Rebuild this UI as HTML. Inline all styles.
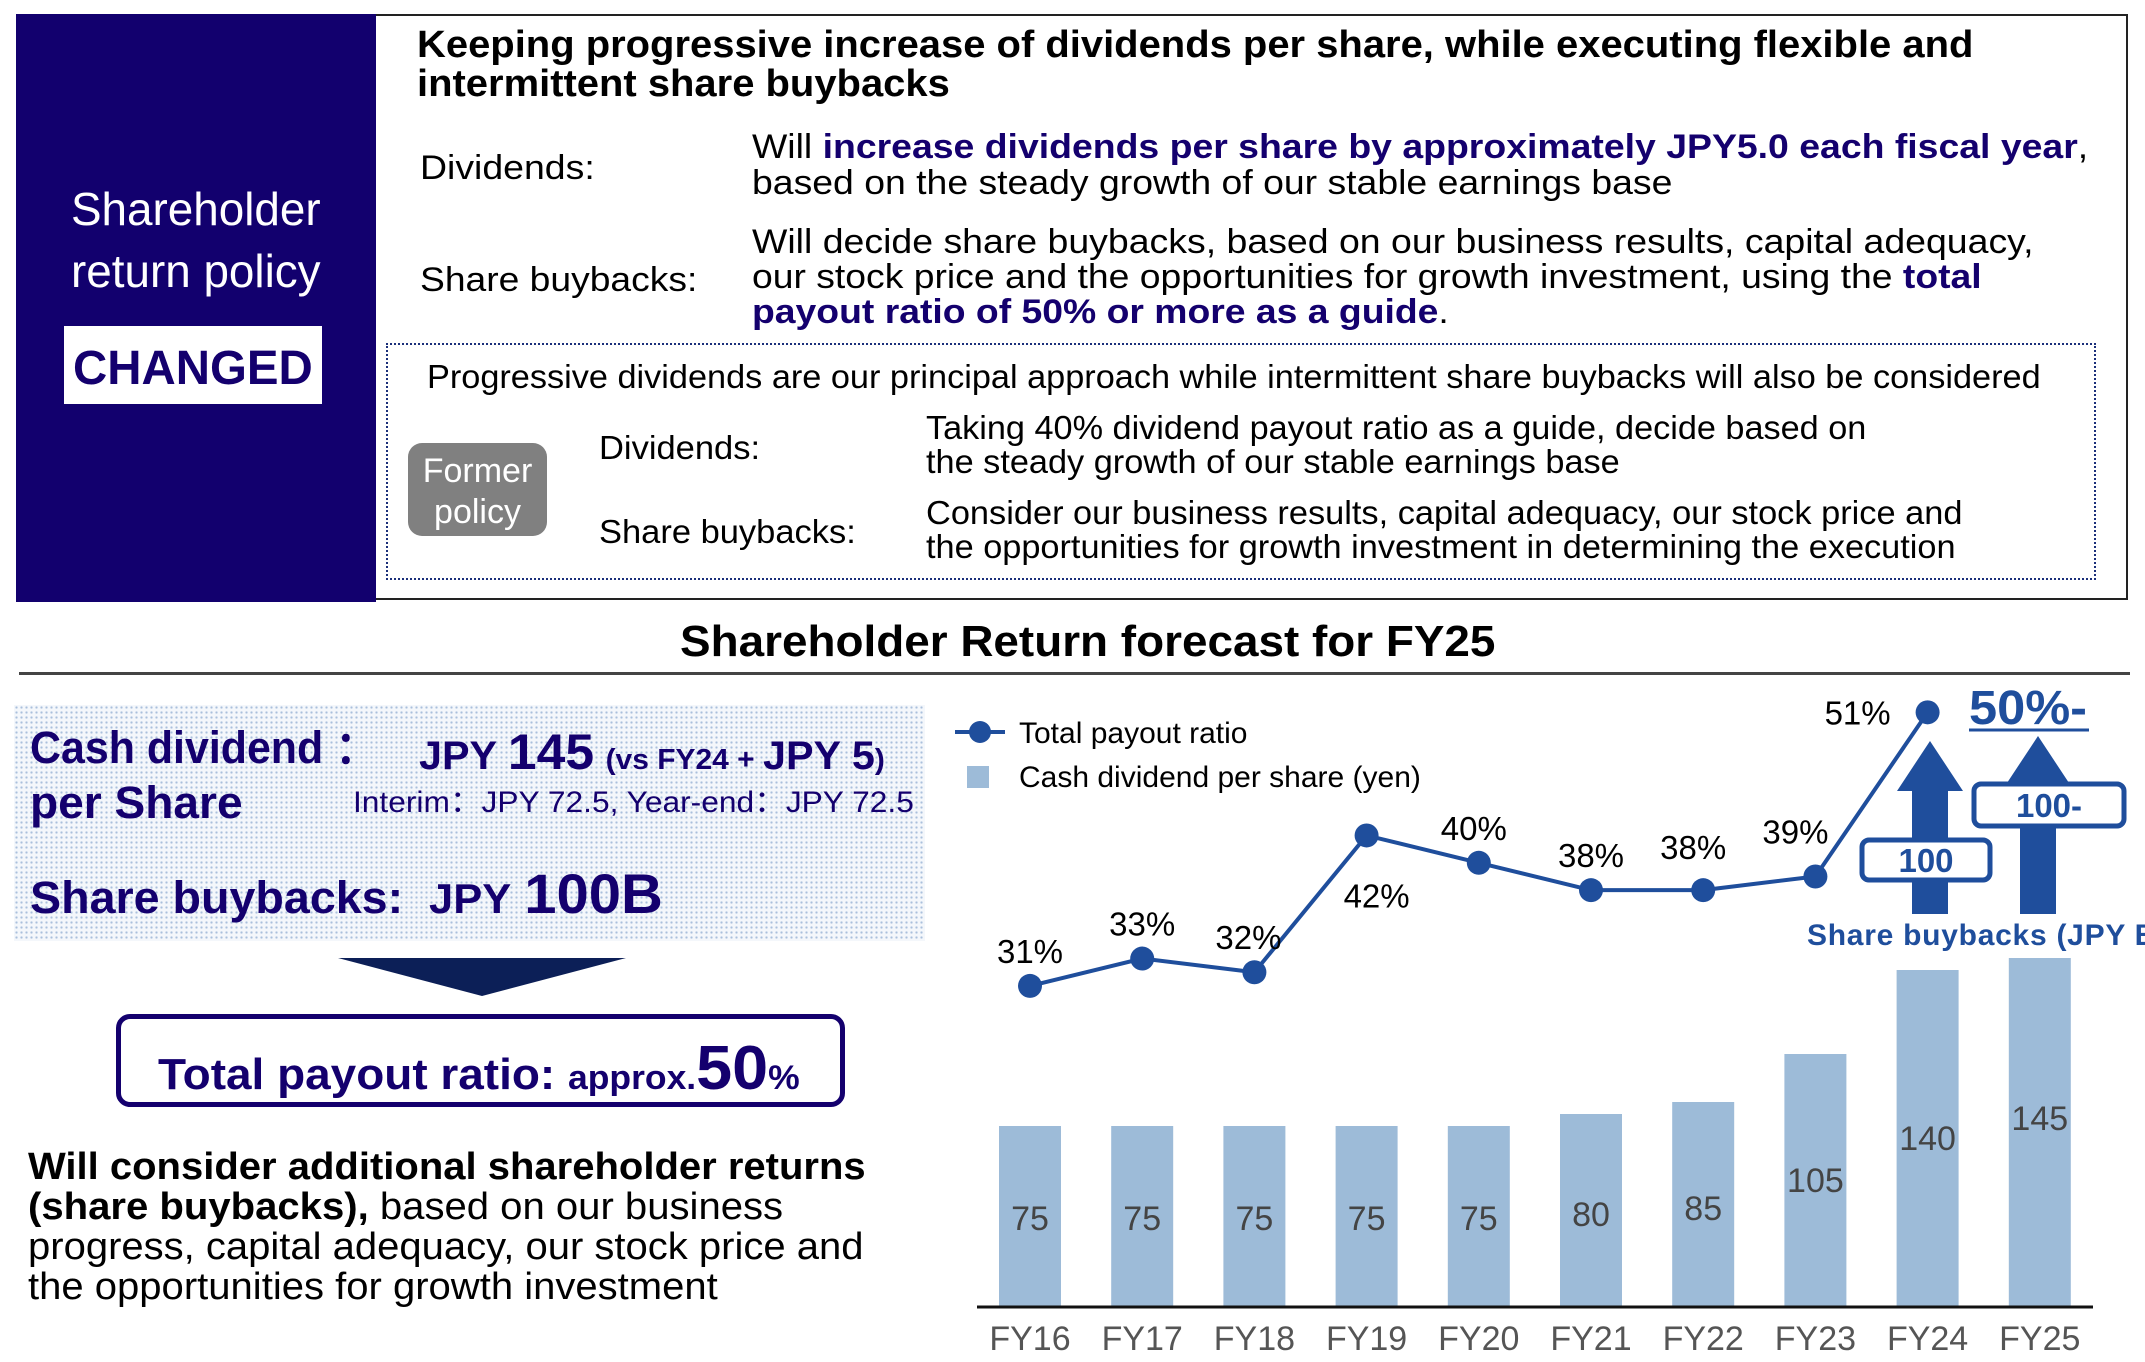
<!DOCTYPE html>
<html><head><meta charset="utf-8">
<style>
body{margin:0;background:#fff;}
#root{position:relative;width:2145px;height:1362px;overflow:hidden;font-family:"Liberation Sans",Arial,sans-serif;color:#000;}
.t{position:absolute;white-space:nowrap;transform-origin:0 50%;line-height:1;}
.navy{color:#14006e;}
.blue{color:#1f3f99;}
b{font-weight:bold;}
</style></head><body>
<div id="root">

<div style="position:absolute;left:16px;top:14px;width:2112px;height:586px;border:2px solid #222;box-sizing:border-box;"></div>
<div style="position:absolute;left:16px;top:14px;width:360px;height:588px;background:#12006e;"></div>
<div class="t" data-w="250" style="left:71px;top:178px;font-size:46px;color:#fff;line-height:62px;text-align:center;">Shareholder<br>return policy</div>
<div style="position:absolute;left:64px;top:326px;width:258px;height:78px;background:#fff;"></div>
<div class="t" data-w="240" style="left:73px;top:345px;font-size:48px;font-weight:bold;color:#14006e;">CHANGED</div>

<div class="t" data-w="1556" style="left:417px;top:26px;font-size:38px;font-weight:bold;">Keeping progressive increase of dividends per share, while executing flexible and</div>
<div class="t" data-w="533" style="left:417px;top:65px;font-size:38px;font-weight:bold;">intermittent share buybacks</div>

<div class="t" data-w="175" style="left:420px;top:151px;font-size:34px;">Dividends:</div>
<div class="t" data-w="1336" style="left:752px;top:130px;font-size:34px;">Will <b class="navy">increase dividends per share by approximately JPY5.0 each fiscal year</b>,</div>
<div class="t" data-w="920" style="left:752px;top:166px;font-size:34px;">based on the steady growth of our stable earnings base</div>

<div class="t" data-w="277" style="left:420px;top:263px;font-size:34px;">Share buybacks:</div>
<div class="t" data-w="1282" style="left:752px;top:225px;font-size:34px;">Will decide share buybacks, based on our business results, capital adequacy,</div>
<div class="t" data-w="1230" style="left:752px;top:260px;font-size:34px;">our stock price and the opportunities for growth investment, using the <b class="navy">total</b></div>
<div class="t" data-w="697" style="left:752px;top:295px;font-size:34px;"><b class="navy">payout ratio of 50% or more as a guide</b>.</div>

<div style="position:absolute;left:386px;top:343px;width:1710px;height:237px;border:2.5px dotted #1b2f7a;box-sizing:border-box;"></div>
<div class="t" data-w="1614" style="left:427px;top:360px;font-size:33px;">Progressive dividends are our principal approach while intermittent share buybacks will also be considered</div>
<div style="position:absolute;left:408px;top:443px;width:139px;height:93px;background:#808080;border-radius:14px;"></div>
<div class="t" style="left:408px;top:451px;width:139px;font-size:34px;color:#fff;text-align:center;line-height:41px;">Former<br>policy</div>
<div class="t" data-w="161" style="left:599px;top:431px;font-size:33px;">Dividends:</div>
<div class="t" data-w="940" style="left:926px;top:411px;font-size:33px;">Taking 40% dividend payout ratio as a guide, decide based on</div>
<div class="t" data-w="694" style="left:926px;top:445px;font-size:33px;">the steady growth of our stable earnings base</div>
<div class="t" data-w="257" style="left:599px;top:515px;font-size:33px;">Share buybacks:</div>
<div class="t" data-w="1036" style="left:926px;top:496px;font-size:33px;">Consider our business results, capital adequacy, our stock price and</div>
<div class="t" data-w="1030" style="left:926px;top:530px;font-size:33px;">the opportunities for growth investment in determining the execution</div>

<div class="t" data-w="815" style="left:680px;top:620px;font-size:44px;font-weight:bold;">Shareholder Return forecast for FY25</div>
<div style="position:absolute;left:19px;top:672px;width:2111px;height:3px;background:#444;"></div>

<div style="position:absolute;left:14px;top:705px;width:911px;height:236px;background-color:#f4f7fb;background-image:radial-gradient(#a9bfdc 1px,transparent 1.3px);background-size:5px 5px;"></div>
<div class="t navy" data-w="348" style="left:30px;top:725px;font-size:45px;font-weight:bold;">Cash dividend ：</div>
<div class="t navy" data-w="466" style="left:419px;top:727px;font-size:40px;font-weight:bold;">JPY <span style="font-size:50px">145</span> <span style="font-size:29px">(vs FY24 + </span>JPY 5<span style="font-size:29px">)</span></div>
<div class="t navy" data-w="213" style="left:30px;top:780px;font-size:45px;font-weight:bold;">per Share</div>
<div class="t navy" data-w="561" style="left:353px;top:788px;font-size:30px;">Interim：JPY 72.5, Year-end：JPY 72.5</div>
<div class="t navy" data-w="633" style="left:30px;top:866px;font-size:45px;font-weight:bold;">Share buybacks:&nbsp; <span style="font-size:42px">JPY</span> <span style="font-size:56px">100B</span></div>
<svg style="position:absolute;left:338px;top:958px" width="288" height="40"><polygon points="0,0 288,0 144,38" fill="#0c1f57"/></svg>
<div style="position:absolute;left:116px;top:1014px;width:729px;height:93px;border:5px solid #14006e;border-radius:14px;box-sizing:border-box;"></div>
<div class="t navy" data-w="642" style="left:158px;top:1038px;font-size:44px;font-weight:bold;">Total payout ratio: <span style="font-size:34px">approx.</span><span style="font-size:62px">50</span><span style="font-size:34px">%</span></div>
<div class="t" data-w="838" style="left:28px;top:1148px;font-size:38px;font-weight:bold;">Will consider additional shareholder returns</div>
<div class="t" data-w="755" style="left:28px;top:1188px;font-size:38px;"><b>(share buybacks),</b> based on our business</div>
<div class="t" data-w="836" style="left:28px;top:1228px;font-size:38px;">progress, capital adequacy, our stock price and</div>
<div class="t" data-w="690" style="left:28px;top:1268px;font-size:38px;">the opportunities for growth investment</div>

<svg id="chart" style="position:absolute;left:0;top:0" width="2145" height="1362"></svg>
</div>

<script>
const categories=["FY16","FY17","FY18","FY19","FY20","FY21","FY22","FY23","FY24","FY25"];
const dividendValues=[75,75,75,75,75,80,85,105,140,145];
const payoutRatios=[31,33,32,42,40,38,38,39,51];
const payoutLabels=["31%","33%","32%","42%","40%","38%","38%","39%","51%"];
const buybackLabels=["100","100-"];

const NS="http://www.w3.org/2000/svg";
const svg=document.getElementById('chart');
function xPos(i){return 1030+i*112.2;}
function yBar(v){return 1306-v*2.4;}
function yLine(v){return 1410-v*13.68;}
function mk(tag,attrs,parent){const e=document.createElementNS(NS,tag);for(const k in attrs)e.setAttribute(k,attrs[k]);(parent||svg).appendChild(e);return e;}
const BLUE="#1f4e9c";

categories.forEach((c,i)=>{
  const v=dividendValues[i];
  const top=yBar(v),h=1306-top;
  const r=mk('rect',{x:xPos(i)-31,y:top,width:62,height:h,fill:"#9dbbd8"});
  
  
  let ly;
  if(i>=7){ly=top+h*(i==9?0.46:0.5)+12;}
  else{ly=1230+(i==5?-4:0)+(i==6?-10:0);}
  const t=mk('text',{x:xPos(i),y:ly,'text-anchor':'middle','font-size':34,fill:'#444','font-family':'Liberation Sans, sans-serif'});
  t.textContent=v;
  
  
  const l=mk('text',{x:xPos(i),y:1350,'text-anchor':'middle','font-size':34,fill:'#555','font-family':'Liberation Sans, sans-serif'});
  l.textContent=c;
  
  
});
const ax=mk('line',{x1:977,x2:2093,y1:1307,y2:1307,stroke:'#111','stroke-width':3});



const pts=payoutRatios.map((v,i)=>xPos(i)+','+yLine(v)).join(' ');
const pl=mk('polyline',{points:pts,fill:'none',stroke:BLUE,'stroke-width':4});


const labelOff=[[0,-35],[0,-35],[-6,-35],[10,60],[-5,-35],[0,-35],[-10,-43],[-20,-45],[-70,0]];
payoutRatios.forEach((v,i)=>{
  const c=mk('circle',{cx:xPos(i),cy:yLine(v),r:12,fill:BLUE});
  
  
  const t=mk('text',{x:xPos(i)+labelOff[i][0],y:yLine(v)+labelOff[i][1]+12,'text-anchor':'middle','font-size':33,fill:'#000','font-family':'Liberation Sans, sans-serif'});
  t.textContent=payoutLabels[i];
  
  
});

const lg=mk('g',{});


mk('line',{x1:955,x2:1005,y1:732,y2:732,stroke:BLUE,'stroke-width':4},lg);
mk('circle',{cx:980,cy:732,r:11,fill:BLUE},lg);
const lt1=mk('text',{x:1019,y:743,'font-size':30,'font-family':'Liberation Sans, sans-serif'},lg);lt1.textContent='Total payout ratio';
mk('rect',{x:967,y:766,width:22,height:22,fill:'#9dbbd8'},lg);
const lt2=mk('text',{x:1019,y:787,'font-size':30,'font-family':'Liberation Sans, sans-serif'},lg);lt2.textContent='Cash dividend per share (yen)';

[[1930,741],[2038,736]].forEach((p,i)=>{
  const a=mk('polygon',{points:`${p[0]},${p[1]} ${p[0]+33},${p[1]+50} ${p[0]+18},${p[1]+50} ${p[0]+18},914 ${p[0]-18},914 ${p[0]-18},${p[1]+50} ${p[0]-33},${p[1]+50}`,fill:BLUE});
  
  
});
[[1862,840,128,40],[1974,784,150,42]].forEach((b,i)=>{
  const r=mk('rect',{x:b[0],y:b[1],width:b[2],height:b[3],rx:7,fill:'#fff',stroke:BLUE,'stroke-width':5});
  
  
  const t=mk('text',{x:b[0]+b[2]/2,y:b[1]+b[3]/2+12,'text-anchor':'middle','font-size':33,'font-weight':'bold',fill:BLUE,'font-family':'Liberation Sans, sans-serif'});
  t.textContent=buybackLabels[i];
  
  
});
const sb=mk('text',{x:1807,y:945,'font-size':30,'font-weight':'bold',fill:BLUE,'font-family':'Liberation Sans, sans-serif',textLength:360});
sb.textContent='Share buybacks (JPY B)';


const ft=mk('text',{x:1969,y:724,'font-size':48,'font-weight':'bold',fill:BLUE,'font-family':'Liberation Sans, sans-serif',textLength:118,lengthAdjust:'spacingAndGlyphs'});
ft.textContent='50%-';


const ul=mk('line',{x1:1969,x2:2089,y1:730,y2:730,stroke:BLUE,'stroke-width':3});



document.querySelectorAll('[data-w]').forEach(el=>{
  const w=parseFloat(el.getAttribute('data-w'));const cw=el.scrollWidth;
  if(cw>0)el.style.transform='scaleX('+(w/cw)+')';
});
</script>
</body></html>
